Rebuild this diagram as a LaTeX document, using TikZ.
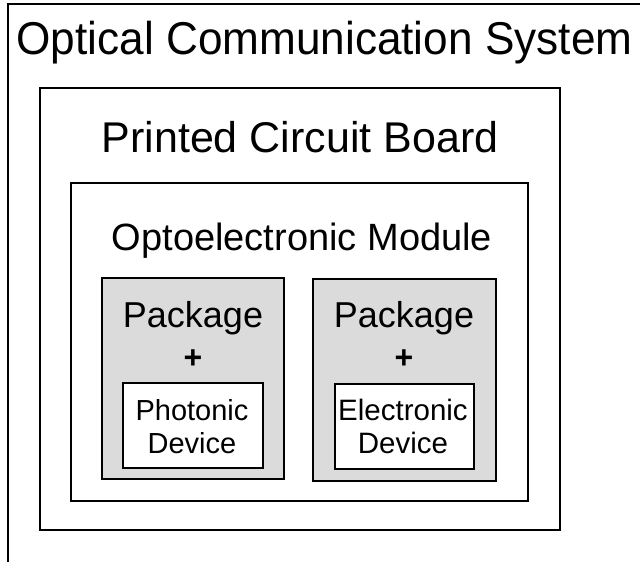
\documentclass[tikz,border=0pt]{standalone}
\usepackage{graphicx}
\usepackage{fontspec}
\setmainfont{Liberation Sans}
\begin{document}
\begin{tikzpicture}[x=1pt,y=-1pt,
  box/.style={draw=black, line width=1.8pt, inner sep=0pt, outer sep=0pt},
  pkg/.style={box, fill=black!14},
  dev/.style={box, fill=white},
  lbl/.style={inner sep=0pt, anchor=base, text=black},
]
\useasboundingbox (0,0) rectangle (640,562);
\fill[white] (0,0) rectangle (640,562);
% outer frame (open on right and bottom)
\coordinate (ftl) at (8,4);
\coordinate (ftr) at (640,4);
\coordinate (fbl) at (8,562);
\draw[line width=1.5pt] (ftr) -- (ftl) -- (fbl);
% boxes
\node[box, minimum width=520pt, minimum height=442pt] (pcb) at (300,309) {};
\node[box, minimum width=457pt, minimum height=318pt] (mod) at (299.5,342) {};
\node[pkg, minimum width=182pt, minimum height=201pt] (pkgL) at (193,378.5) {};
\node[pkg, minimum width=183pt, minimum height=202pt] (pkgR) at (404.5,380) {};
\node[dev, minimum width=140pt, minimum height=85pt] (devL) at (193,425.5) {};
\node[dev, minimum width=139pt, minimum height=85pt] (devR) at (404.5,426.5) {};
% labels
\node[lbl, font=\fontsize{46}{50}\selectfont] (title) at (324.5,54) {\scalebox{0.96}[1]{Optical Communication System}};
\node[lbl, font=\fontsize{43}{46}\selectfont] (pcbt) at (300,152) {Printed Circuit Board};
\node[lbl, font=\fontsize{38}{42}\selectfont] (modt) at (302,250) {Optoelectronic Module};
\node[lbl, font=\fontsize{36}{40}\selectfont] (pkgLt) at (193,327) {Package};
\node[lbl, font=\fontsize{36}{40}\selectfont] (pkgRt) at (404,327) {Package};
\node[inner sep=0pt, font=\fontsize{32}{36}\selectfont\bfseries] (plusL) at (193,359) {+};
\node[inner sep=0pt, font=\fontsize{32}{36}\selectfont\bfseries] (plusR) at (404,359) {+};
\node[lbl, font=\fontsize{29}{32}\selectfont] (devLa) at (192,420) {Photonic};
\node[lbl, font=\fontsize{29}{32}\selectfont] (devLb) at (192,453) {Device};
\node[lbl, font=\fontsize{29.5}{32}\selectfont] (devRa) at (403,420) {Electronic};
\node[lbl, font=\fontsize{29.5}{32}\selectfont] (devRb) at (403,453) {Device};
\end{tikzpicture}
\end{document}
